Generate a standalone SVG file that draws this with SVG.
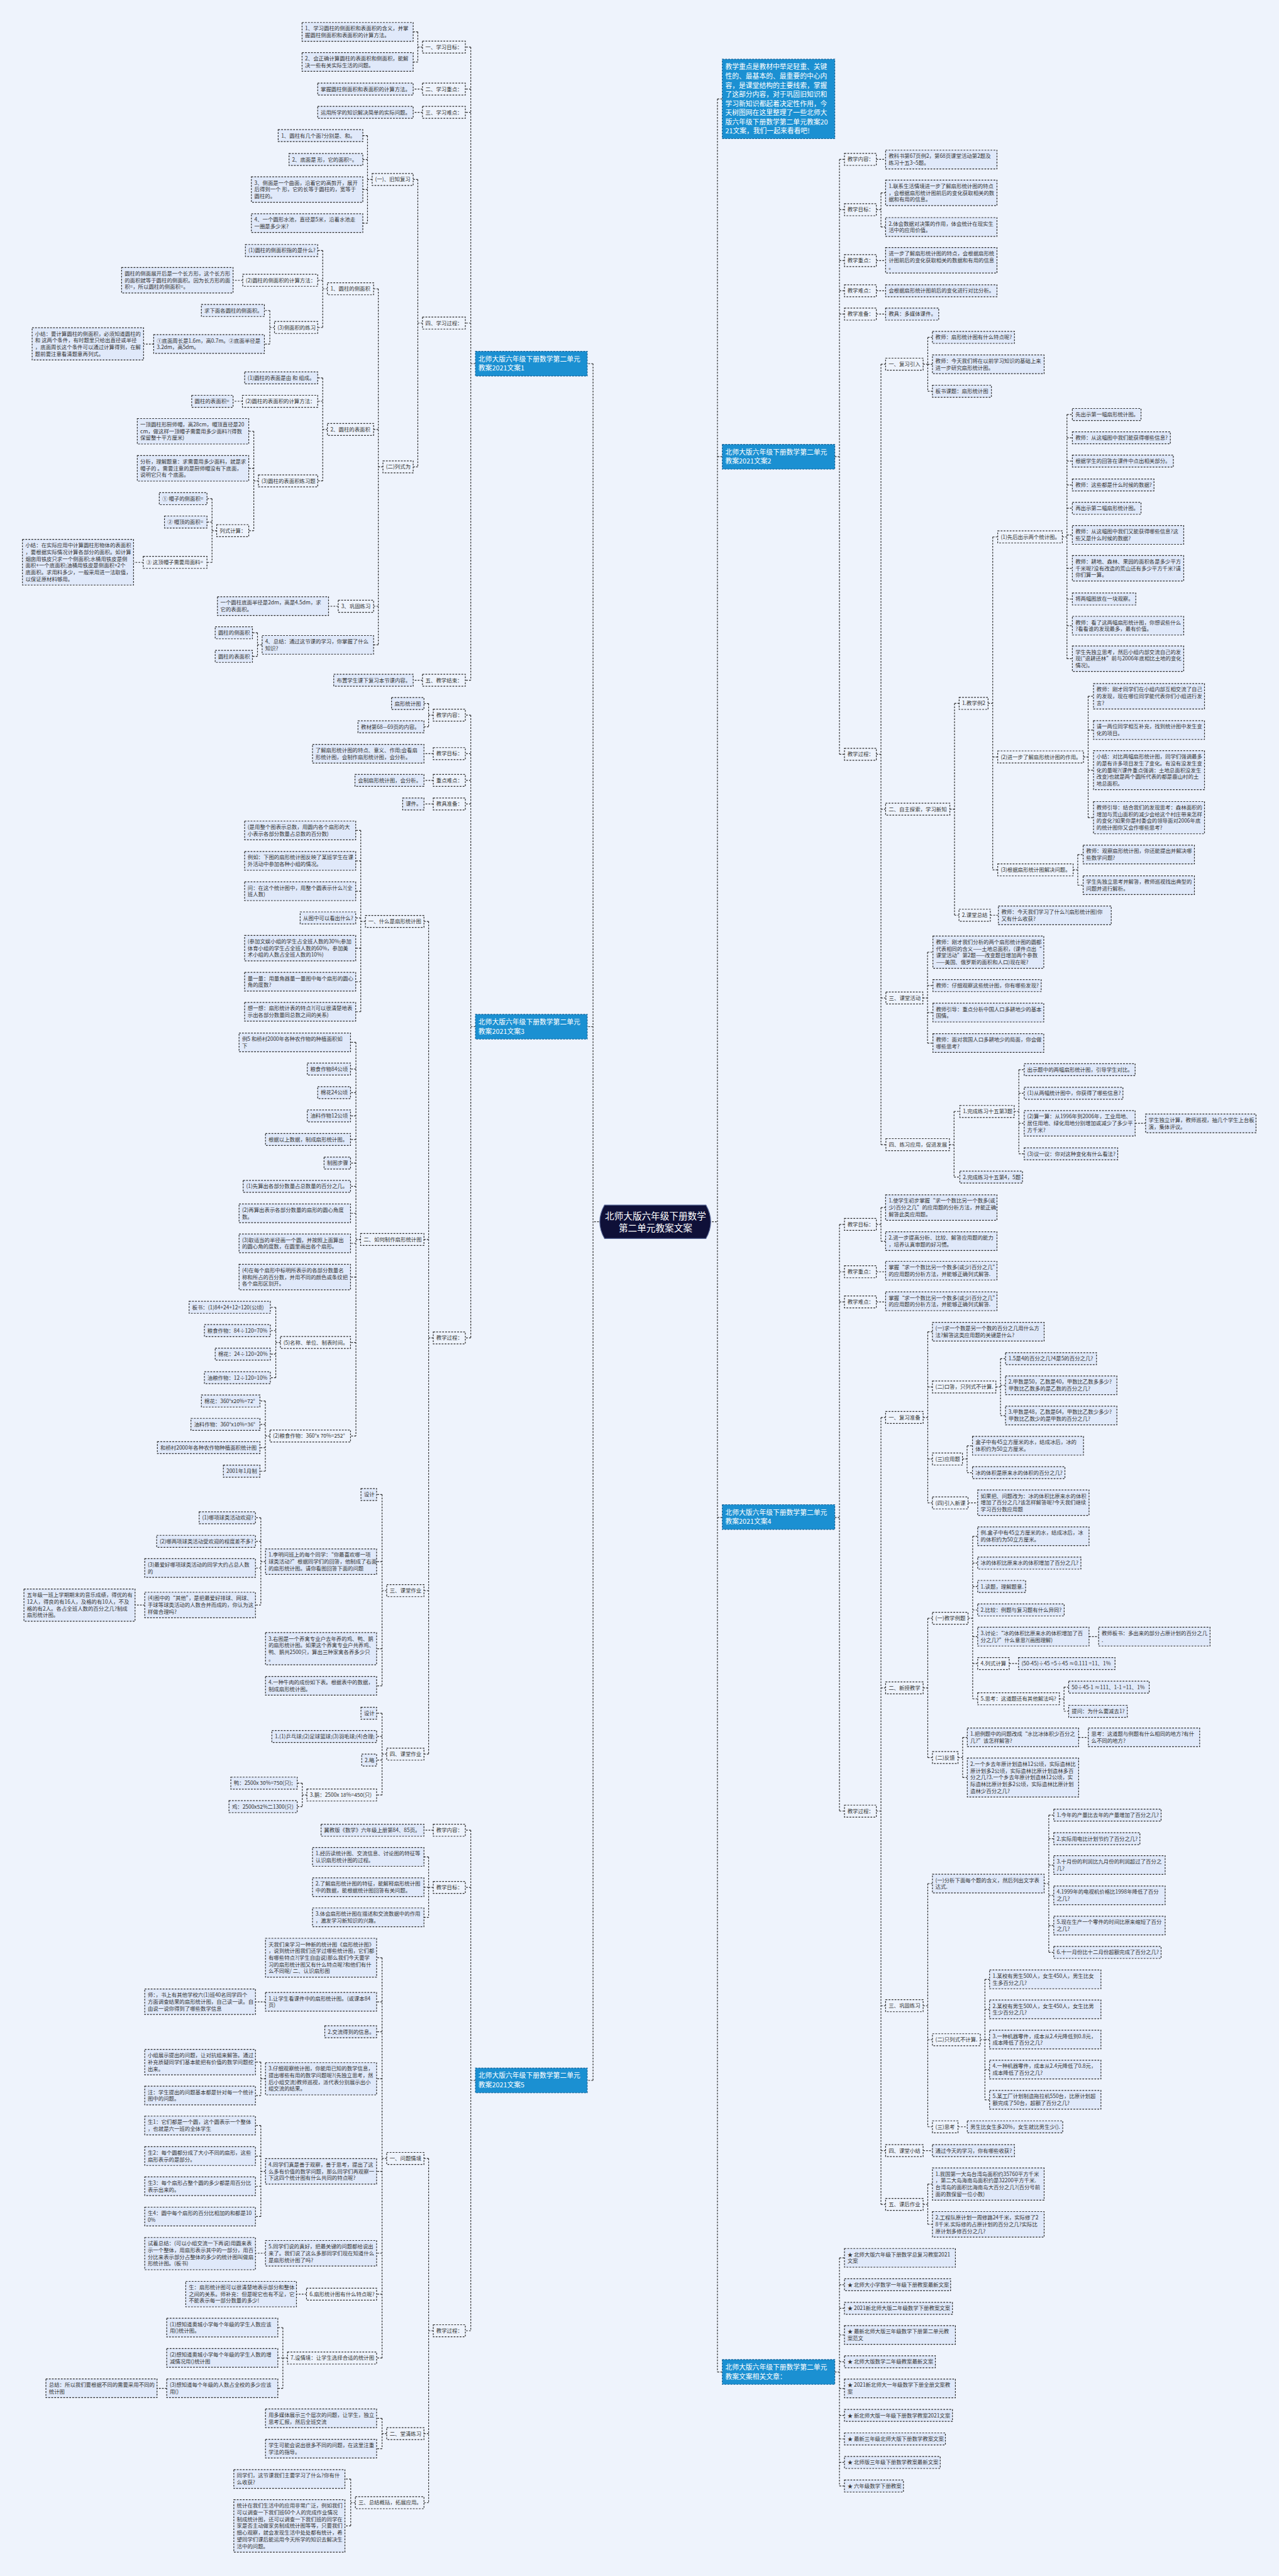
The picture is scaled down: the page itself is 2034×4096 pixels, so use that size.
<svg xmlns="http://www.w3.org/2000/svg" width="2034" height="4096" viewBox="0 0 2034 4096">
<style>
.c{fill:none;stroke:#2b2b2b;stroke-width:1.5;stroke-dasharray:3.5 2.5}
.n{fill:#eef3fc;stroke:#2b2b2b;stroke-width:1.5;stroke-dasharray:3.5 2.5}
.f{fill:#e0e9fa;stroke:#2b2b2b;stroke-width:1.5;stroke-dasharray:3.5 2.5}
.bl{fill:#1b90d2;stroke:#155f93;stroke-width:1.5;stroke-dasharray:3.5 2.5}
.t{font-family:"Noto Sans CJK SC","Noto Sans",sans-serif;font-size:10.6px;fill:#333}
.tb{font-family:"Noto Sans CJK SC","Noto Sans",sans-serif;font-size:13.6px;fill:#fff}
.tc{font-family:"Noto Sans CJK SC","Noto Sans",sans-serif;font-size:18.4px;fill:#fff;text-anchor:middle}
</style>
<rect x="0" y="0" width="2034" height="4096" fill="#eef3fc"/>
<g transform="scale(0.79453)">
<g id="connectors">
<path class="c" d="M1198.7,2445H1187 M1187,727.8V4163.5 M1187,727.8H1175.4 M1187,2054.7H1175.4 M1187,4163.5H1175.4"/>
<path class="c" d="M1425,2445H1436 M1436,198V4747 M1436,198H1445.7 M1436,914H1445.7 M1436,3036.9H1445.7 M1436,4747H1445.7"/>
<path class="c" d="M951.6,727.8H942.3 M942.3,94.3V1361.3 M942.3,94.3H931.4 M942.3,178.2H931.4 M942.3,224.8H931.4 M942.3,646.6H931.4 M942.3,1361.3H931.4"/>
<path class="c" d="M845.6,94.3H836.3 M836.3,63.8V124.1 M836.3,63.8H827 M836.3,124.1H827"/>
<path class="c" d="M845.6,178.2H827 M845.6,224.8H827 M845.6,1361.3H827"/>
<path class="c" d="M845.6,646.6H836.3 M836.3,359.2V934.3 M836.3,359.2H827 M836.3,934.3H827"/>
<path class="c" d="M744.9,359.2H735.6 M735.6,271.4V446.6 M735.6,271.4H726.2 M735.6,319.2H726.2 M735.6,379.3H726.2 M735.6,446.6H726.2"/>
<path class="c" d="M766.5,934.3H757.2 M757.2,578V1290.6 M757.2,578H747.8 M757.2,859.4H747.8 M757.2,1213.3H747.8 M757.2,1290.6H747.8"/>
<path class="c" d="M655.3,578H646 M646,501.3V655.4 M646,501.3H635.9 M646,561H635.9 M646,655.4H635.9"/>
<path class="c" d="M485.9,561H466.5 M307.6,688.5H287.4 M485.2,803H466.5 M286.7,1125.5H267.3 M677,1213.3H657.6"/>
<path class="c" d="M549.4,655.4H540.1 M540.1,621.4V688.5 M540.1,621.4H529.2 M540.1,688.5H529.2"/>
<path class="c" d="M655.3,859.4H646 M646,756.3V962.3 M646,756.3H635.9 M646,803H635.9 M646,962.3H635.9"/>
<path class="c" d="M517.3,962.3H508 M508,863.1V1062 M508,863.1H497.9 M508,937.3H497.9 M508,1062H497.9"/>
<path class="c" d="M433.7,1062H424.4 M424.4,998V1125.5 M424.4,998H414.3 M424.4,1044.7H414.3 M424.4,1125.5H414.3"/>
<path class="c" d="M524.7,1290.6H515.4 M515.4,1266.4V1313.6 M515.4,1266.4H505.3 M515.4,1313.6H505.3"/>
<path class="c" d="M951.6,2054.7H942.3 M942.3,1431.2V2677.5 M942.3,1431.2H931.4 M942.3,1508.2H931.4 M942.3,1561.8H931.4 M942.3,1609H931.4 M942.3,2677.5H931.4"/>
<path class="c" d="M867.2,1431.2H857.9 M857.9,1407.9V1454.5 M857.9,1407.9H848.6 M857.9,1454.5H848.6"/>
<path class="c" d="M867.2,1508.2H848.6 M867.2,1561.8H848.6 M867.2,1609H848.6"/>
<path class="c" d="M867.2,2677.5H857.9 M857.9,1844V3510.5 M857.9,1844H848.6 M857.9,2480.5H848.6 M857.9,3183.3H848.6 M857.9,3510.5H848.6"/>
<path class="c" d="M731.4,1844H722.1 M722.1,1661.9V2024.8 M722.1,1661.9H712 M722.1,1722.9H712 M722.1,1783.6H712 M722.1,1837H712 M722.1,1897.6H712 M722.1,1964.7H712 M722.1,2024.8H712"/>
<path class="c" d="M721.7,2480.5H712.4 M712.4,2086.1V2873.8 M712.4,2086.1H701.6 M712.4,2139.5H701.6 M712.4,2186.6H701.6 M712.4,2233.3H701.6 M712.4,2280.4H701.6 M712.4,2327.6H701.6 M712.4,2374.2H701.6 M712.4,2428.2H701.6 M712.4,2488.3H701.6 M712.4,2555.7H701.6 M712.4,2686.7H701.6 M712.4,2873.8H701.6"/>
<path class="c" d="M561.3,2686.7H552 M552,2616.3V2757.2 M552,2616.3H541.1 M552,2662.9H541.1 M552,2710H541.1 M552,2757.2H541.1"/>
<path class="c" d="M540.4,2873.8H531.1 M531.1,2803.8V2944.2 M531.1,2803.8H520.3 M531.1,2850.5H520.3 M531.1,2897.1H520.3 M531.1,2944.2H520.3"/>
<path class="c" d="M774,3183.3H764.7 M764.7,2990.9V3373.8 M764.7,2990.9H753.8 M764.7,3125.3H753.8 M764.7,3299.6H753.8 M764.7,3373.8H753.8"/>
<path class="c" d="M531.4,3125.3H522.1 M522.1,3037.5V3212 M522.1,3037.5H511.3 M522.1,3084.6H511.3 M522.1,3138H511.3 M522.1,3212H511.3 M289.7,3212H270.3"/>
<path class="c" d="M774,3510.5H764.7 M764.7,3428.6V3592.3 M764.7,3428.6H753.8 M764.7,3475.2H753.8 M764.7,3522.4H753.8 M764.7,3592.3H753.8"/>
<path class="c" d="M614.3,3592.3H605 M605,3568.5V3615.6 M605,3568.5H594.9 M605,3615.6H594.9"/>
<path class="c" d="M951.6,4163.5H942.3 M942.3,3662.8V4664.4 M942.3,3662.8H931.4 M942.3,3777.2H931.4 M942.3,4664.4H931.4 M867.2,3662.8H848.6"/>
<path class="c" d="M867.2,3777.2H857.9 M857.9,3716.2V3837.1 M857.9,3716.2H848.6 M857.9,3776.9H848.6 M857.9,3837.1H848.6"/>
<path class="c" d="M867.2,4664.4H857.9 M857.9,4319.6V5008.6 M857.9,4319.6H848.6 M857.9,4870.4H848.6 M857.9,5008.6H848.6"/>
<path class="c" d="M774,4319.6H764.7 M764.7,3918V4719.1 M764.7,3918H753.8 M764.7,4006.2H753.8 M764.7,4066.1H753.8 M764.7,4160.2H753.8 M764.7,4345.5H753.8 M764.7,4509.3H753.8 M764.7,4591.2H753.8 M764.7,4719.1H753.8"/>
<path class="c" d="M531.4,4006.2H511.3 M531.4,4509.3H511.3 M613.5,4591.2H593.4 M333.7,4779.6H314.3"/>
<path class="c" d="M531.4,4160.2H522.1 M522.1,4126.8V4193.8 M522.1,4126.8H511.3 M522.1,4193.8H511.3"/>
<path class="c" d="M531.4,4345.5H522.1 M522.1,4253.7V4435.9 M522.1,4253.7H511.3 M522.1,4315H511.3 M522.1,4375.2H511.3 M522.1,4435.9H511.3"/>
<path class="c" d="M575.5,4719.1H566.2 M566.2,4658.1V4779.6 M566.2,4658.1H556.1 M566.2,4718.8H556.1 M566.2,4779.6H556.1"/>
<path class="c" d="M774,4870.4H764.7 M764.7,4839.7V4900.5 M764.7,4839.7H753.8 M764.7,4900.5H753.8"/>
<path class="c" d="M711.3,5008.6H702 M702,4961.2V5055.1 M702,4961.2H690.4 M702,5055.1H690.4"/>
<path class="c" d="M1670.9,914H1680.2 M1680.2,319V1509.5 M1680.2,319H1690.2 M1680.2,419.7H1690.2 M1680.2,521.5H1690.2 M1680.2,582H1690.2 M1680.2,628.6H1690.2 M1680.2,1509.5H1690.2"/>
<path class="c" d="M1754,319H1772.6 M1754,521.5H1772.6 M1754,582H1772.6 M1754,628.6H1772.6"/>
<path class="c" d="M1754,419.7H1763.3 M1763.3,386V454.3 M1763.3,386H1772.6 M1763.3,454.3H1772.6"/>
<path class="c" d="M1754,1509.5H1763.3 M1763.3,728.8V2290.7 M1763.3,728.8H1772.6 M1763.3,1619.3H1772.6 M1763.3,1997.2H1772.6 M1763.3,2290.7H1772.6"/>
<path class="c" d="M1847.7,728.8H1857 M1857,675.2V782.9 M1857,675.2H1866.3 M1857,729.1H1866.3 M1857,782.9H1866.3"/>
<path class="c" d="M1901.2,1619.3H1910.5 M1910.5,1407.7V1831.6 M1910.5,1407.7H1919.5 M1910.5,1831.6H1919.5"/>
<path class="c" d="M1977.7,1407.7H1987 M1987,1074.5V1740.9 M1987,1074.5H1997 M1987,1514.8H1997 M1987,1740.9H1997"/>
<path class="c" d="M2126.3,1074.5H2135.6 M2135.6,829.5V1318.3 M2135.6,829.5H2146.4 M2135.6,876.1H2146.4 M2135.6,922.7H2146.4 M2135.6,970.6H2146.4 M2135.6,1017.2H2146.4 M2135.6,1070.6H2146.4 M2135.6,1137.3H2146.4 M2135.6,1198.8H2146.4 M2135.6,1252.2H2146.4 M2135.6,1318.3H2146.4"/>
<path class="c" d="M2168.7,1514.8H2178 M2178,1393.4V1636.4 M2178,1393.4H2188.7 M2178,1461.1H2188.7 M2178,1541.3H2188.7 M2178,1636.4H2188.7"/>
<path class="c" d="M2147.9,1740.9H2157.2 M2157.2,1710.2V1771.5 M2157.2,1710.2H2168 M2157.2,1771.5H2168 M1982.2,1831.6H1998.3"/>
<path class="c" d="M1847.2,1997.2H1856.5 M1856.5,1905.5V2087.5 M1856.5,1905.5H1867.3 M1856.5,1972.5H1867.3 M1856.5,2026.5H1867.3 M1856.5,2087.5H1867.3"/>
<path class="c" d="M1900.3,2290.7H1909.6 M1909.6,2224.3V2355.6 M1909.6,2224.3H1921.2 M1909.6,2355.6H1921.2"/>
<path class="c" d="M2030,2224.3H2039.3 M2039.3,2140.7V2309 M2039.3,2140.7H2050 M2039.3,2187.9H2050 M2039.3,2248H2050 M2039.3,2309H2050 M2272,2248H2293"/>
<path class="c" d="M1670.9,3036.9H1680.2 M1680.2,2450.4V3624.5 M1680.2,2450.4H1690.2 M1680.2,2545.2H1690.2 M1680.2,2605.4H1690.2 M1680.2,3624.5H1690.2"/>
<path class="c" d="M1754,2450.4H1763.3 M1763.3,2416.7V2484 M1763.3,2416.7H1772.6 M1763.3,2484H1772.6 M1754,2545.2H1772.6 M1754,2605.4H1772.6"/>
<path class="c" d="M1754,3624.5H1763.3 M1763.3,2836.8V4411.6 M1763.3,2836.8H1772.6 M1763.3,3377.9H1772.6 M1763.3,4014H1772.6 M1763.3,4304H1772.6 M1763.3,4411.6H1772.6"/>
<path class="c" d="M1847.7,2836.8H1857 M1857,2665.2V3007.7 M1857,2665.2H1866.3 M1857,2775.7H1866.3 M1857,2919.9H1866.3 M1857,3007.7H1866.3"/>
<path class="c" d="M1993.3,2775.7H2002.6 M2002.6,2719V2832.9 M2002.6,2719H2012.6 M2002.6,2772.4H2012.6 M2002.6,2832.9H2012.6"/>
<path class="c" d="M1926.4,2919.9H1935.7 M1935.7,2893.4V2947.2 M1935.7,2893.4H1946.5 M1935.7,2947.2H1946.5 M1937.6,3007.7H1956.9"/>
<path class="c" d="M1847.7,3377.9H1857 M1857,3238.6V3517.4 M1857,3238.6H1866.3 M1857,3517.4H1866.3"/>
<path class="c" d="M1937.6,3238.6H1946.9 M1946.9,3074.5V3399.8 M1946.9,3074.5H1956.9 M1946.9,3128.2H1956.9 M1946.9,3174.9H1956.9 M1946.9,3222H1956.9 M1946.9,3275.4H1956.9 M1946.9,3329.1H1956.9 M1946.9,3399.8H1956.9"/>
<path class="c" d="M2179.8,3275.4H2199 M2020,3329.1H2038.6 M2120.4,3399.8H2129.7 M2129.7,3376.3V3424.7 M2129.7,3376.3H2139 M2129.7,3424.7H2139"/>
<path class="c" d="M1917.5,3517.4H1926.8 M1926.8,3477V3557.2 M1926.8,3477H1936.1 M1926.8,3557.2H1936.1 M2159,3477H2178.3"/>
<path class="c" d="M1847.7,4014H1857 M1857,3769.5V4256.3 M1857,3769.5H1866.3 M1857,4082H1866.3 M1857,4256.3H1866.3"/>
<path class="c" d="M2089.9,3769.5H2099.2 M2099.2,3632.5V3907.3 M2099.2,3632.5H2109.2 M2099.2,3679.7H2109.2 M2099.2,3732.5H2109.2 M2099.2,3793.1H2109.2 M2099.2,3853.6H2109.2 M2099.2,3907.3H2109.2"/>
<path class="c" d="M1962.1,4082H1971.4 M1971.4,3961.3V4202.3 M1971.4,3961.3H1980.7 M1971.4,4021.3H1980.7 M1971.4,4081.8H1980.7 M1971.4,4141.8H1980.7 M1971.4,4202.3H1980.7"/>
<path class="c" d="M1917.5,4256.3H1936.1 M1847.7,4304H1866.3 M1847.7,4411.6H1857 M1857,4370.9V4451.4 M1857,4370.9H1866.3 M1857,4451.4H1866.3"/>
<path class="c" d="M1670.9,4747H1680.2 M1680.2,4518.6V4975.2 M1680.2,4518.6H1690.2 M1680.2,4572.3H1690.2 M1680.2,4619.5H1690.2 M1680.2,4672.9H1690.2 M1680.2,4726.6H1690.2 M1680.2,4780H1690.2 M1680.2,4833.8H1690.2 M1680.2,4880.9H1690.2 M1680.2,4928H1690.2 M1680.2,4975.2H1690.2"/>
</g>

<g id="n-center"><path d="M1210,2411.6H1413Q1432,2445 1413,2478.6H1210Q1191,2445 1210,2411.6Z" fill="#0f1038" stroke="#5a6a9a" stroke-width="1.5"/><text class="tc" x="1312" y="2441">北师大版六年级下册数学</text><text class="tc" x="1312" y="2464.7">第二单元教案文案</text></g>

<g id="n-a0"><rect class="bl" x="951.6" y="703" width="223.8" height="49.6"/><text class="tb" y="723.2"><tspan x="957.6">北师大版六年级下册数学第二单元</tspan><tspan x="957.6" dy="18.6">教案2021文案1</tspan></text></g>
<g id="n-a1"><rect class="n" x="845.6" y="82.3" width="85.8" height="24"/><text class="t" x="851.6" y="98.1">一、学习目标：</text></g>
<g id="n-a1a"><rect class="f" x="604.6" y="45" width="222.4" height="37.5"/><text class="t" y="60.8"><tspan x="610.6">1、学习圆柱的侧面积和表面积的含义，并掌</tspan><tspan x="610.6" dy="13.5">握圆柱侧面积和表面积的计算方法。</tspan></text></g>
<g id="n-a1b"><rect class="f" x="604.6" y="105.3" width="222.4" height="37.5"/><text class="t" y="121.1"><tspan x="610.6">2、会正确计算圆柱的表面积和侧面积，能解</tspan><tspan x="610.6" dy="13.5">决一些有关实际生活的问题。</tspan></text></g>
<g id="n-a2"><rect class="n" x="845.6" y="166.2" width="85.8" height="24"/><text class="t" x="851.6" y="182">二、学习重点：</text></g>
<g id="n-a2a"><rect class="f" x="635.9" y="166.2" width="191.1" height="24"/><text class="t" x="641.9" y="182">掌握圆柱侧面积和表面积的计算方法。</text></g>
<g id="n-a3"><rect class="n" x="845.6" y="212.8" width="85.8" height="24"/><text class="t" x="851.6" y="228.6">三、学习难点：</text></g>
<g id="n-a3a"><rect class="f" x="635.9" y="212.8" width="191.1" height="24"/><text class="t" x="641.9" y="228.6">运用所学的知识解决简单的实际问题。</text></g>
<g id="n-a4"><rect class="n" x="845.6" y="634.6" width="85.8" height="24"/><text class="t" x="851.6" y="650.4">四、学习过程：</text></g>
<g id="n-a41"><rect class="n" x="744.9" y="347.2" width="82.1" height="24"/><text class="t" x="750.9" y="363">(一)、旧知复习</text></g>
<g id="n-a411"><rect class="f" x="556.8" y="259.4" width="169.4" height="24"/><text class="t" x="562.8" y="275.2">1、圆柱有几个面?分别是、和。</text></g>
<g id="n-a412"><rect class="f" x="578.5" y="307.2" width="147.7" height="24"/><text class="t" x="584.5" y="323">2、底面是 形，它的面积=。</text></g>
<g id="n-a413"><rect class="f" x="503.1" y="353.8" width="223.1" height="51"/><text class="t" y="369.6"><tspan x="509.1">3、侧面是一个曲面，沿着它的高剪开，展开</tspan><tspan x="509.1" dy="13.5">后得到一个 形，它的长等于圆柱的，宽等于</tspan><tspan x="509.1" dy="13.5">圆柱的。</tspan></text></g>
<g id="n-a414"><rect class="f" x="503.1" y="427.8" width="223.1" height="37.5"/><text class="t" y="443.6"><tspan x="509.1">4、一个圆形水池，直径是5米，沿着水池走</tspan><tspan x="509.1" dy="13.5">一圈是多少米?</tspan></text></g>
<g id="n-a42"><rect class="n" x="766.5" y="922.3" width="60.5" height="24"/><text class="t" x="772.5" y="938.1">(二)列式为</text></g>
<g id="n-a421"><rect class="n" x="655.3" y="566" width="92.5" height="24"/><text class="t" x="661.3" y="581.8">1、圆柱的侧面积</text></g>
<g id="n-a4211"><rect class="f" x="491.2" y="489.3" width="144.7" height="24"/><text class="t" x="497.2" y="505.1">(1)圆柱的侧面积指的是什么?</text></g>
<g id="n-a4212"><rect class="n" x="485.9" y="549" width="150" height="24"/><text class="t" x="491.9" y="564.8">(2)圆柱的侧面积的计算方法：</text></g>
<g id="n-a42121"><rect class="f" x="243.4" y="535.3" width="223.1" height="51"/><text class="t" y="551.1"><tspan x="249.4">圆柱的侧面展开后是一个长方形，这个长方形</tspan><tspan x="249.4" dy="13.5">的面积就等于圆柱的侧面积。因为长方形的面</tspan><tspan x="249.4" dy="13.5">积=，所以圆柱的侧面积=。</tspan></text></g>
<g id="n-a4213"><rect class="n" x="549.4" y="643.4" width="86.5" height="24"/><text class="t" x="555.4" y="659.2">(3)侧面积的练习</text></g>
<g id="n-a42131"><rect class="f" x="403.1" y="609.4" width="126.1" height="24"/><text class="t" x="409.1" y="625.2">求下面各圆柱的侧面积。</text></g>
<g id="n-a42132"><rect class="f" x="307.6" y="669.7" width="221.6" height="37.5"/><text class="t" y="685.5"><tspan x="313.6">①底面周长是1.6m，高0.7m。②底面半径是</tspan><tspan x="313.6" dy="13.5">3.2dm，高5dm。</tspan></text></g>
<g id="n-a421321"><rect class="f" x="64.3" y="656" width="223.1" height="64.5"/><text class="t" y="671.8"><tspan x="70.3">小结：要计算圆柱的侧面积，必须知道圆柱的</tspan><tspan x="70.3" dy="13.5">和 这两个条件，有时题里只给出直径或半径</tspan><tspan x="70.3" dy="13.5">，底面周长这个条件可以通过计算得到，在解</tspan><tspan x="70.3" dy="13.5">题前要注意看清题意再列式。</tspan></text></g>
<g id="n-a422"><rect class="n" x="655.3" y="847.4" width="92.5" height="24"/><text class="t" x="661.3" y="863.2">2、圆柱的表面积</text></g>
<g id="n-a4221"><rect class="f" x="489.7" y="744.3" width="146.2" height="24"/><text class="t" x="495.7" y="760.1">(1)圆柱的表面是由 和 组成。</text></g>
<g id="n-a4222"><rect class="n" x="485.2" y="791" width="150.7" height="24"/><text class="t" x="491.2" y="806.8">(2)圆柱的表面积的计算方法：</text></g>
<g id="n-a42221"><rect class="f" x="383.7" y="791" width="82.8" height="24"/><text class="t" x="389.7" y="806.8">圆柱的表面积=</text></g>
<g id="n-a4223"><rect class="n" x="517.3" y="950.3" width="118.6" height="24"/><text class="t" x="523.3" y="966.1">(3)圆柱的表面积练习题</text></g>
<g id="n-a42231"><rect class="f" x="274.8" y="837.6" width="223.1" height="51"/><text class="t" y="853.4"><tspan x="280.8">一顶圆柱形厨师帽，高28cm，帽顶直径是20</tspan><tspan x="280.8" dy="13.5">cm，做这样一顶帽子需要用多少面料?(得数</tspan><tspan x="280.8" dy="13.5">保留整十平方厘米)</tspan></text></g>
<g id="n-a42232"><rect class="f" x="274.8" y="911.8" width="223.1" height="51"/><text class="t" y="927.6"><tspan x="280.8">分析，理解题意：求需要用多少面料，就是求</tspan><tspan x="280.8" dy="13.5">帽子的 。需要注意的是厨师帽没有下底面，</tspan><tspan x="280.8" dy="13.5">说明它只有 个底面。</tspan></text></g>
<g id="n-a42233"><rect class="n" x="433.7" y="1050" width="64.2" height="24"/><text class="t" x="439.7" y="1065.8">列式计算：</text></g>
<g id="n-a422331"><rect class="f" x="318.8" y="986" width="95.5" height="24"/><text class="t" x="324.8" y="1001.8">① 帽子的侧面积=</text></g>
<g id="n-a422332"><rect class="f" x="329.2" y="1032.7" width="85.1" height="24"/><text class="t" x="335.2" y="1048.5">② 帽顶的面积=</text></g>
<g id="n-a422333"><rect class="n" x="286.7" y="1113.5" width="127.6" height="24"/><text class="t" x="292.7" y="1129.3">③ 这顶帽子需要用面料=</text></g>
<g id="n-a4223331"><rect class="f" x="44.9" y="1079.3" width="222.4" height="91.5"/><text class="t" y="1095.1"><tspan x="50.9">小结：在实际应用中计算圆柱形物体的表面积</tspan><tspan x="50.9" dy="13.5">，要根据实际情况计算各部分的面积。如计算</tspan><tspan x="50.9" dy="13.5">烟囱用铁皮只求一个侧面积;水桶用铁皮是侧</tspan><tspan x="50.9" dy="13.5">面积+一个底面积;油桶用铁皮是侧面积+2个</tspan><tspan x="50.9" dy="13.5">底面积。求用料多少，一般采用进一法取值，</tspan><tspan x="50.9" dy="13.5">以保证原材料够用。</tspan></text></g>
<g id="n-a423"><rect class="n" x="677" y="1201.3" width="70.8" height="24"/><text class="t" x="683" y="1217.1">3、巩固练习</text></g>
<g id="n-a4231"><rect class="f" x="435.2" y="1194.2" width="222.4" height="37.5"/><text class="t" y="1210"><tspan x="441.2">一个圆柱底面半径是2dm，高是4.5dm，求</tspan><tspan x="441.2" dy="13.5">它的表面积。</tspan></text></g>
<g id="n-a424"><rect class="f" x="524.7" y="1271.8" width="223.1" height="37.5"/><text class="t" y="1287.6"><tspan x="530.7">4、总结：通过这节课的学习，你掌握了什么</tspan><tspan x="530.7" dy="13.5">知识?</tspan></text></g>
<g id="n-a4241"><rect class="f" x="430.7" y="1254.4" width="74.6" height="24"/><text class="t" x="436.7" y="1270.2">圆柱的侧面积</text></g>
<g id="n-a4242"><rect class="f" x="430.7" y="1301.6" width="74.6" height="24"/><text class="t" x="436.7" y="1317.4">圆柱的表面积</text></g>
<g id="n-a5"><rect class="n" x="845.6" y="1349.3" width="85.8" height="24"/><text class="t" x="851.6" y="1365.1">五、教学结束：</text></g>
<g id="n-a5a"><rect class="f" x="668" y="1349.3" width="159" height="24"/><text class="t" x="674" y="1365.1">布置学生课下复习本节课内容。</text></g>

<g id="n-b0"><rect class="bl" x="951.6" y="2029.9" width="223.8" height="49.6"/><text class="tb" y="2050.1"><tspan x="957.6">北师大版六年级下册数学第二单元</tspan><tspan x="957.6" dy="18.6">教案2021文案3</tspan></text></g>
<g id="n-b1"><rect class="n" x="867.2" y="1419.2" width="64.2" height="24"/><text class="t" x="873.2" y="1435">教学内容：</text></g>
<g id="n-b1a"><rect class="f" x="783.7" y="1395.9" width="64.9" height="24"/><text class="t" x="789.7" y="1411.7">扇形统计图</text></g>
<g id="n-b1b"><rect class="f" x="716.5" y="1442.5" width="132.1" height="24"/><text class="t" x="722.5" y="1458.3">教材第68—69页的内容。</text></g>
<g id="n-b2"><rect class="n" x="867.2" y="1496.2" width="64.2" height="24"/><text class="t" x="873.2" y="1512">教学目标：</text></g>
<g id="n-b2a"><rect class="f" x="625.5" y="1489.7" width="223.1" height="37.5"/><text class="t" y="1505.5"><tspan x="631.5">了解扇形统计图的特点、意义、作用;会看扇</tspan><tspan x="631.5" dy="13.5">形统计图，会制作扇形统计图，会分析。</tspan></text></g>
<g id="n-b3"><rect class="n" x="867.2" y="1549.8" width="64.2" height="24"/><text class="t" x="873.2" y="1565.6">重点难点：</text></g>
<g id="n-b3a"><rect class="f" x="710.5" y="1549.8" width="138.1" height="24"/><text class="t" x="716.5" y="1565.6">会制扇形统计图，会分析。</text></g>
<g id="n-b4"><rect class="n" x="867.2" y="1597" width="64.2" height="24"/><text class="t" x="873.2" y="1612.8">教具准备：</text></g>
<g id="n-b4a"><rect class="f" x="806" y="1597" width="42.6" height="24"/><text class="t" x="812" y="1612.8">课件。</text></g>
<g id="n-b5"><rect class="n" x="867.2" y="2665.5" width="64.2" height="24"/><text class="t" x="873.2" y="2681.3">教学过程：</text></g>
<g id="n-b51"><rect class="n" x="731.4" y="1832" width="117.2" height="24"/><text class="t" x="737.4" y="1847.8">一、什么是扇形统计图</text></g>
<g id="n-b511"><rect class="f" x="489.6" y="1643.1" width="222.4" height="37.5"/><text class="t" y="1658.9"><tspan x="495.6">(是用整个图表示总数，用圆内各个扇形的大</tspan><tspan x="495.6" dy="13.5">小表示各部分数量占总数的百分数)</tspan></text></g>
<g id="n-b512"><rect class="f" x="489.6" y="1704.1" width="222.4" height="37.5"/><text class="t" y="1719.9"><tspan x="495.6">例如：下图的扇形统计图反映了某班学生在课</tspan><tspan x="495.6" dy="13.5">外活动中参加各种小组的情况。</tspan></text></g>
<g id="n-b513"><rect class="f" x="489.6" y="1764.8" width="222.4" height="37.5"/><text class="t" y="1780.6"><tspan x="495.6">问：在这个统计图中，用整个圆表示什么?(全</tspan><tspan x="495.6" dy="13.5">班人数)</tspan></text></g>
<g id="n-b514"><rect class="f" x="600.8" y="1825" width="111.2" height="24"/><text class="t" x="606.8" y="1840.8">从图中可以看出什么?</text></g>
<g id="n-b515"><rect class="f" x="489.6" y="1872.1" width="222.4" height="51"/><text class="t" y="1887.9"><tspan x="495.6">(参加文娱小组的学生占全班人数的30%;参加</tspan><tspan x="495.6" dy="13.5">体育小组的学生占全班人数的60%，参加美</tspan><tspan x="495.6" dy="13.5">术小组的人数占全班人数的10%)</tspan></text></g>
<g id="n-b516"><rect class="f" x="489.6" y="1945.9" width="222.4" height="37.5"/><text class="t" y="1961.7"><tspan x="495.6">量一量：用量角器量一量图中每个扇形的圆心</tspan><tspan x="495.6" dy="13.5">角的度数?</tspan></text></g>
<g id="n-b517"><rect class="f" x="489.6" y="2006" width="222.4" height="37.5"/><text class="t" y="2021.8"><tspan x="495.6">想一想：扇形统计表的特点?(可以很清楚地表</tspan><tspan x="495.6" dy="13.5">示出各部分数量同总数之间的关系)</tspan></text></g>
<g id="n-b52"><rect class="n" x="721.7" y="2468.5" width="126.9" height="24"/><text class="t" x="727.7" y="2484.3">二、如何制作扇形统计图</text></g>
<g id="n-b521"><rect class="f" x="478.5" y="2067.3" width="223.1" height="37.5"/><text class="t" y="2083.1"><tspan x="484.5">例5 和桥村2000年各种农作物的种植面积如</tspan><tspan x="484.5" dy="13.5">下</tspan></text></g>
<g id="n-b522"><rect class="f" x="615" y="2127.5" width="86.6" height="24"/><text class="t" x="621" y="2143.3">粮食作物84公顷</text></g>
<g id="n-b523"><rect class="f" x="635.9" y="2174.6" width="65.7" height="24"/><text class="t" x="641.9" y="2190.4">棉花24公顷</text></g>
<g id="n-b524"><rect class="f" x="615" y="2221.3" width="86.6" height="24"/><text class="t" x="621" y="2237.1">油料作物12公顷</text></g>
<g id="n-b525"><rect class="f" x="531.4" y="2268.4" width="170.2" height="24"/><text class="t" x="537.4" y="2284.2">根据以上数据，制成扇形统计图。</text></g>
<g id="n-b526"><rect class="f" x="648.6" y="2315.6" width="53" height="24"/><text class="t" x="654.6" y="2331.4">制图步骤</text></g>
<g id="n-b527"><rect class="f" x="486.7" y="2362.2" width="214.9" height="24"/><text class="t" x="492.7" y="2378">(1)先算出各部分数量占总数量的百分之几。</text></g>
<g id="n-b528"><rect class="f" x="478.5" y="2409.4" width="223.1" height="37.5"/><text class="t" y="2425.2"><tspan x="484.5">(2)再算出表示各部分数量的扇形的圆心角度</tspan><tspan x="484.5" dy="13.5">数。</tspan></text></g>
<g id="n-b529"><rect class="f" x="478.5" y="2469.5" width="223.1" height="37.5"/><text class="t" y="2485.3"><tspan x="484.5">(3)取适当的半径画一个圆，并按照上面算出</tspan><tspan x="484.5" dy="13.5">的圆心角的度数，在圆里画出各个扇形。</tspan></text></g>
<g id="n-b5210"><rect class="f" x="478.5" y="2530.2" width="223.1" height="51"/><text class="t" y="2546"><tspan x="484.5">(4)在每个扇形中标明所表示的各部分数量名</tspan><tspan x="484.5" dy="13.5">称和所占的百分数，并用不同的颜色或条纹把</tspan><tspan x="484.5" dy="13.5">各个扇形区别开。</tspan></text></g>
<g id="n-b5211"><rect class="n" x="561.3" y="2674.7" width="140.3" height="24"/><text class="t" x="567.3" y="2690.5">(5)名称、单位、制表时间。</text></g>
<g id="n-c1"><rect class="f" x="378.5" y="2604.3" width="162.6" height="24"/><text class="t" x="384.5" y="2620.1">板书：(1)84+24+12=120(公顷)</text></g>
<g id="n-c2"><rect class="f" x="409.1" y="2650.9" width="132" height="24"/><text class="t" x="415.1" y="2666.7">粮食作物：84÷120=70%</text></g>
<g id="n-c3"><rect class="f" x="430.7" y="2698" width="110.4" height="24"/><text class="t" x="436.7" y="2713.8">棉花：24÷120=20%</text></g>
<g id="n-c4"><rect class="f" x="409.1" y="2745.2" width="132" height="24"/><text class="t" x="415.1" y="2761">油粮作物：12÷120=10%</text></g>
<g id="n-b5212"><rect class="n" x="540.4" y="2861.8" width="161.2" height="24"/><text class="t" x="546.4" y="2877.6">(2)粮食作物：360°x 70%=252°</text></g>
<g id="n-d1"><rect class="f" x="403.1" y="2791.8" width="117.2" height="24"/><text class="t" x="409.1" y="2807.6">棉花：360°x20%=72°</text></g>
<g id="n-d2"><rect class="f" x="382.2" y="2838.5" width="138.1" height="24"/><text class="t" x="388.2" y="2854.3">油料作物：360°x10%=36°</text></g>
<g id="n-d3"><rect class="f" x="315" y="2885.1" width="205.3" height="24"/><text class="t" x="321" y="2900.9">和桥村2000年各种农作物种植面积统计图</text></g>
<g id="n-d4"><rect class="f" x="447.1" y="2932.2" width="73.2" height="24"/><text class="t" x="453.1" y="2948">2001年1月制</text></g>
<g id="n-b53"><rect class="n" x="774" y="3171.3" width="74.6" height="24"/><text class="t" x="780" y="3187.1">三、课堂作业</text></g>
<g id="n-b531"><rect class="f" x="722.5" y="2978.9" width="31.3" height="24"/><text class="t" x="728.5" y="2994.7">设计</text></g>
<g id="n-b532"><rect class="f" x="531.4" y="3099.8" width="222.4" height="51"/><text class="t" y="3115.6"><tspan x="537.4">1.李明问班上的每个同学：“你最喜欢哪一项</tspan><tspan x="537.4" dy="13.5">球类活动?”根据同学们的回答，他制成了右面</tspan><tspan x="537.4" dy="13.5">的扇形统计图。请你看图回答下面的问题</tspan></text></g>
<g id="n-e1"><rect class="f" x="398.6" y="3025.5" width="112.7" height="24"/><text class="t" x="404.6" y="3041.3">(1)哪项球类活动欢迎?</text></g>
<g id="n-e2"><rect class="f" x="313.6" y="3072.6" width="197.7" height="24"/><text class="t" x="319.6" y="3088.4">(2)哪两项球类活动受欢迎的程度差不多?</text></g>
<g id="n-e3"><rect class="f" x="289.7" y="3119.3" width="221.6" height="37.5"/><text class="t" y="3135.1"><tspan x="295.7">(3)最爱好哪项球类活动的同学大约占总人数</tspan><tspan x="295.7" dy="13.5">的</tspan></text></g>
<g id="n-e4"><rect class="f" x="289.7" y="3186.5" width="221.6" height="51"/><text class="t" y="3202.3"><tspan x="295.7">(4)图中的“其他”，是把最爱好排球、网球、</tspan><tspan x="295.7" dy="13.5">手球等球类活动的人数合并而成的，你认为这</tspan><tspan x="295.7" dy="13.5">样做合理吗?</tspan></text></g>
<g id="n-e41"><rect class="f" x="47.9" y="3180" width="222.4" height="64.5"/><text class="t" y="3195.8"><tspan x="53.9">五年级一班上学期期末的音乐成绩，得优的有</tspan><tspan x="53.9" dy="13.5">12人，得良的有16人，及格的有10人，不及</tspan><tspan x="53.9" dy="13.5">格的有2人。各占全班人数的百分之几?制成</tspan><tspan x="53.9" dy="13.5">扇形统计图。</tspan></text></g>
<g id="n-b533"><rect class="f" x="531.4" y="3267.3" width="222.4" height="64.5"/><text class="t" y="3283.1"><tspan x="537.4">3.右图是一个养禽专业户去年养的鸡、鸭、鹅</tspan><tspan x="537.4" dy="13.5">的扇形统计图。如果这个养禽专业户共养鸡、</tspan><tspan x="537.4" dy="13.5">鸭、鹅共2500只，算出三种家禽各养多少只</tspan><tspan x="537.4" dy="13.5">。</tspan></text></g>
<g id="n-b534"><rect class="f" x="531.4" y="3355" width="222.4" height="37.5"/><text class="t" y="3370.8"><tspan x="537.4">4.一种牛肉的成份如下表。根据表中的数据，</tspan><tspan x="537.4" dy="13.5">制成扇形统计图。</tspan></text></g>
<g id="n-b54"><rect class="n" x="774" y="3498.5" width="74.6" height="24"/><text class="t" x="780" y="3514.3">四、课堂作业</text></g>
<g id="n-b541"><rect class="f" x="722.5" y="3416.6" width="31.3" height="24"/><text class="t" x="728.5" y="3432.4">设计</text></g>
<g id="n-b542"><rect class="f" x="544.1" y="3463.2" width="209.7" height="24"/><text class="t" x="550.1" y="3479">1.(1)乒乓球;(2)足球篮球;(3)羽毛球;(4)合理;</text></g>
<g id="n-b543"><rect class="f" x="724" y="3510.4" width="29.8" height="24"/><text class="t" x="730" y="3526.2">2.略</text></g>
<g id="n-b544"><rect class="n" x="614.3" y="3580.3" width="139.5" height="24"/><text class="t" x="620.3" y="3596.1">3.鹅：2500x 18%=450(只)</text></g>
<g id="n-f1"><rect class="f" x="462" y="3556.5" width="132.9" height="24"/><text class="t" x="468" y="3572.3">鸭：2500x 30%=750(只);</text></g>
<g id="n-f2"><rect class="f" x="458.3" y="3603.6" width="136.6" height="24"/><text class="t" x="464.3" y="3619.4">鸡：2500x52%二1300(只)</text></g>

<g id="n-g0"><rect class="bl" x="951.6" y="4138.7" width="223.8" height="49.6"/><text class="tb" y="4158.9"><tspan x="957.6">北师大版六年级下册数学第二单元</tspan><tspan x="957.6" dy="18.6">教案2021文案5</tspan></text></g>
<g id="n-g1"><rect class="n" x="867.2" y="3650.8" width="64.2" height="24"/><text class="t" x="873.2" y="3666.6">教学内容：</text></g>
<g id="n-g1a"><rect class="f" x="642.6" y="3650.8" width="206" height="24"/><text class="t" x="648.6" y="3666.6">冀教版《数学》六年级上册第84、85页。</text></g>
<g id="n-g2"><rect class="n" x="867.2" y="3765.2" width="64.2" height="24"/><text class="t" x="873.2" y="3781">教学目标：</text></g>
<g id="n-g2a"><rect class="f" x="625.5" y="3697.4" width="223.1" height="37.5"/><text class="t" y="3713.2"><tspan x="631.5">1.经历读统计图、交流信息、讨论图的特征等</tspan><tspan x="631.5" dy="13.5">认识扇形统计图的过程。</tspan></text></g>
<g id="n-g2b"><rect class="f" x="625.5" y="3758.1" width="223.1" height="37.5"/><text class="t" y="3773.9"><tspan x="631.5">2.了解扇形统计图的特征，能解释扇形统计图</tspan><tspan x="631.5" dy="13.5">中的数据，能根据统计图回答有关问题。</tspan></text></g>
<g id="n-g2c"><rect class="f" x="625.5" y="3818.3" width="223.1" height="37.5"/><text class="t" y="3834.1"><tspan x="631.5">3.体会扇形统计图在描述和交流数据中的作用</tspan><tspan x="631.5" dy="13.5">，激发学习新知识的兴趣。</tspan></text></g>
<g id="n-g3"><rect class="n" x="867.2" y="4652.4" width="64.2" height="24"/><text class="t" x="873.2" y="4668.2">教学过程：</text></g>
<g id="n-g31"><rect class="n" x="774" y="4307.6" width="74.6" height="24"/><text class="t" x="780" y="4323.4">一、问题情境</text></g>
<g id="n-g311"><rect class="f" x="531.4" y="3879" width="222.4" height="78"/><text class="t" y="3894.8"><tspan x="537.4">天我们来学习一种新的统计图《扇形统计图》</tspan><tspan x="537.4" dy="13.5">，说到统计图我们还学过哪些统计图，它们都</tspan><tspan x="537.4" dy="13.5">有哪些特点?(学生自由说)那么我们今天要学</tspan><tspan x="537.4" dy="13.5">习的扇形统计图又有什么特点呢?和他们有什</tspan><tspan x="537.4" dy="13.5">么不同呢/ 二、认识扇形图</tspan></text></g>
<g id="n-g312"><rect class="f" x="531.4" y="3987.4" width="222.4" height="37.5"/><text class="t" y="4003.2"><tspan x="537.4">1.让学生看课件中的扇形统计图。(或课本84</tspan><tspan x="537.4" dy="13.5">页)</tspan></text></g>
<g id="n-g3121"><rect class="f" x="289.7" y="3980.4" width="221.6" height="51"/><text class="t" y="3996.2"><tspan x="295.7">师：，书上有其他学校六(1)班40名同学四个</tspan><tspan x="295.7" dy="13.5">方面调查结果的扇形统计图，自己读一读。自</tspan><tspan x="295.7" dy="13.5">由说一说你得到了哪些数学信息</tspan></text></g>
<g id="n-g313"><rect class="f" x="650.1" y="4054.1" width="103.7" height="24"/><text class="t" x="656.1" y="4069.9">2.交流得到的信息。</text></g>
<g id="n-g314"><rect class="f" x="531.4" y="4127.9" width="222.4" height="64.5"/><text class="t" y="4143.7"><tspan x="537.4">3.仔细观察统计图，你能用已知的数学信息，</tspan><tspan x="537.4" dy="13.5">提出哪些有用的数学问题呢?(先独立思考，然</tspan><tspan x="537.4" dy="13.5">后小组交流)教师巡视，派代表分别展示出小</tspan><tspan x="537.4" dy="13.5">组交流的结果。</tspan></text></g>
<g id="n-g3141"><rect class="f" x="289.7" y="4101.3" width="221.6" height="51"/><text class="t" y="4117.1"><tspan x="295.7">小组展示提出的问题，让对抗组来解答。通过</tspan><tspan x="295.7" dy="13.5">补充质疑同学们基本能把有价值的数学问题挖</tspan><tspan x="295.7" dy="13.5">出来。</tspan></text></g>
<g id="n-g3142"><rect class="f" x="289.7" y="4175" width="221.6" height="37.5"/><text class="t" y="4190.8"><tspan x="295.7">注：学生提出的问题基本都是针对每一个统计</tspan><tspan x="295.7" dy="13.5">图中的问题。</tspan></text></g>
<g id="n-g315"><rect class="f" x="531.4" y="4320" width="222.4" height="51"/><text class="t" y="4335.8"><tspan x="537.4">4.同学们真是善于观察，善于思考，提出了这</tspan><tspan x="537.4" dy="13.5">么多有价值的数学问题，那么同学们再观察一</tspan><tspan x="537.4" dy="13.5">下这四个统计图有什么共同的特点呢?</tspan></text></g>
<g id="n-h1"><rect class="f" x="289.7" y="4234.9" width="221.6" height="37.5"/><text class="t" y="4250.7"><tspan x="295.7">生1：它们都是一个圆，这个圆表示一个整体</tspan><tspan x="295.7" dy="13.5">，也就是六一班的全体学生</tspan></text></g>
<g id="n-h2"><rect class="f" x="289.7" y="4296.2" width="221.6" height="37.5"/><text class="t" y="4312"><tspan x="295.7">生2：每个圆都分成了大小不同的扇形，这些</tspan><tspan x="295.7" dy="13.5">扇形表示的是部分。</tspan></text></g>
<g id="n-h3"><rect class="f" x="289.7" y="4356.4" width="221.6" height="37.5"/><text class="t" y="4372.2"><tspan x="295.7">生3：每个扇形占整个圆的多少都是用百分比</tspan><tspan x="295.7" dy="13.5">表示出来的。</tspan></text></g>
<g id="n-h4"><rect class="f" x="289.7" y="4417.1" width="221.6" height="37.5"/><text class="t" y="4432.9"><tspan x="295.7">生4：圆中每个扇形的百分比相加的和都是10</tspan><tspan x="295.7" dy="13.5">0%</tspan></text></g>
<g id="n-g316"><rect class="f" x="531.4" y="4483.8" width="222.4" height="51"/><text class="t" y="4499.6"><tspan x="537.4">5.同学们说的真好，把最关键的问题都给说出</tspan><tspan x="537.4" dy="13.5">来了。我们说了这么多那同学们现在知道什么</tspan><tspan x="537.4" dy="13.5">是扇形统计图了吗?</tspan></text></g>
<g id="n-g3161"><rect class="f" x="289.7" y="4477.8" width="221.6" height="64.5"/><text class="t" y="4493.6"><tspan x="295.7">试着总结：(可以小组交流一下再说)用圆来表</tspan><tspan x="295.7" dy="13.5">示一个整体，用扇形表示其中的一部分，用百</tspan><tspan x="295.7" dy="13.5">分比来表示部分占整体的多少的统计图叫做扇</tspan><tspan x="295.7" dy="13.5">形统计图。(板书)</tspan></text></g>
<g id="n-g317"><rect class="n" x="613.5" y="4579.2" width="140.3" height="24"/><text class="t" x="619.5" y="4595">6.扇形统计图有什么特点呢?</text></g>
<g id="n-g3171"><rect class="f" x="371.8" y="4565.6" width="221.6" height="51"/><text class="t" y="4581.4"><tspan x="377.8">生：扇形统计图可以很清楚地表示部分和整体</tspan><tspan x="377.8" dy="13.5">之间的关系。师补充：但是呢它也有不足，它</tspan><tspan x="377.8" dy="13.5">不能表示每一部分数量的多少!</tspan></text></g>
<g id="n-g318"><rect class="n" x="575.5" y="4707.1" width="178.3" height="24"/><text class="t" x="581.5" y="4722.9">7.设情境：让学生选择合适的统计图</text></g>
<g id="n-i1"><rect class="f" x="333.7" y="4639.3" width="222.4" height="37.5"/><text class="t" y="4655.1"><tspan x="339.7">(1)想知道奥城小学每个年级的学生人数应该</tspan><tspan x="339.7" dy="13.5">用()统计图。</tspan></text></g>
<g id="n-i2"><rect class="f" x="333.7" y="4700" width="222.4" height="37.5"/><text class="t" y="4715.8"><tspan x="339.7">(2)想知道奥城小学每个年级的学生人数的增</tspan><tspan x="339.7" dy="13.5">减情况用()统计图</tspan></text></g>
<g id="n-i3"><rect class="f" x="333.7" y="4760.8" width="222.4" height="37.5"/><text class="t" y="4776.6"><tspan x="339.7">(3)想知道每个年级的人数占全校的多少应该</tspan><tspan x="339.7" dy="13.5">用()</tspan></text></g>
<g id="n-i31"><rect class="f" x="91.9" y="4760.8" width="222.4" height="37.5"/><text class="t" y="4776.6"><tspan x="97.9">总结：所以我们要根据不同的需要采用不同的</tspan><tspan x="97.9" dy="13.5">统计图</tspan></text></g>
<g id="n-g32"><rect class="n" x="774" y="4858.4" width="74.6" height="24"/><text class="t" x="780" y="4874.2">二、堂清练习</text></g>
<g id="n-j1"><rect class="f" x="531.4" y="4820.9" width="222.4" height="37.5"/><text class="t" y="4836.7"><tspan x="537.4">用多媒体展示三个层次的问题，让学生，独立</tspan><tspan x="537.4" dy="13.5">思考汇报，然后全班交流</tspan></text></g>
<g id="n-j2"><rect class="f" x="531.4" y="4881.7" width="222.4" height="37.5"/><text class="t" y="4897.5"><tspan x="537.4">学生可能会说出很多不同的问题，在这里注重</tspan><tspan x="537.4" dy="13.5">学法的指导。</tspan></text></g>
<g id="n-g33"><rect class="n" x="711.3" y="4996.6" width="137.3" height="24"/><text class="t" x="717.3" y="5012.4">三、总结概括，拓展应用。</text></g>
<g id="n-k1"><rect class="f" x="468" y="4942.4" width="222.4" height="37.5"/><text class="t" y="4958.2"><tspan x="474">同学们，这节课我们主要学习了什么?你有什</tspan><tspan x="474" dy="13.5">么收获?</tspan></text></g>
<g id="n-k2"><rect class="f" x="468" y="5002.6" width="222.4" height="105"/><text class="t" y="5018.4"><tspan x="474">统计在我们生活中的应用非常广泛，例如我们</tspan><tspan x="474" dy="13.5">可以调查一下我们班60个人的完成作业情况</tspan><tspan x="474" dy="13.5">制成统计图，还可以调查一下我们班的同学在</tspan><tspan x="474" dy="13.5">家是否主动做家务制成统计图等等，只要我们</tspan><tspan x="474" dy="13.5">细心观察，就会发现生活中处处都有统计，希</tspan><tspan x="474" dy="13.5">望同学们课后能运用今天所学的知识去解决生</tspan><tspan x="474" dy="13.5">活中的问题。</tspan></text></g>

<g id="n-r0"><rect class="bl" x="1445.7" y="118.4" width="225.2" height="159.1"/><text class="tb" y="139"><tspan x="1451.7">教学重点是教材中举足轻重、关键</tspan><tspan x="1451.7" dy="18.3">性的、最基本的、最重要的中心内</tspan><tspan x="1451.7" dy="18.3">容，是课堂结构的主要线索，掌握</tspan><tspan x="1451.7" dy="18.3">了这部分内容，对于巩固旧知识和</tspan><tspan x="1451.7" dy="18.3">学习新知识都起着决定性作用，今</tspan><tspan x="1451.7" dy="18.3">天树图网在这里整理了一些北师大</tspan><tspan x="1451.7" dy="18.3">版六年级下册数学第二单元教案20</tspan><tspan x="1451.7" dy="18.3">21文案，我们一起来看看吧!</tspan></text></g>
<g id="n-r2"><rect class="bl" x="1445.7" y="889.3" width="225.2" height="49.6"/><text class="tb" y="909.5"><tspan x="1451.7">北师大版六年级下册数学第二单元</tspan><tspan x="1451.7" dy="18.6">教案2021文案2</tspan></text></g>
<g id="n-r21"><rect class="n" x="1690.2" y="307" width="63.8" height="24"/><text class="t" x="1696.2" y="322.8">教学内容：</text></g>
<g id="n-r21a"><rect class="f" x="1772.6" y="300.5" width="222.9" height="37.5"/><text class="t" y="316.3"><tspan x="1778.6">教科书第67页例2，第68页课堂活动第2题及</tspan><tspan x="1778.6" dy="13.5">练习十五3~5题。</tspan></text></g>
<g id="n-r22"><rect class="n" x="1690.2" y="407.7" width="63.8" height="24"/><text class="t" x="1696.2" y="423.5">教学目标：</text></g>
<g id="n-r22a"><rect class="f" x="1772.6" y="360.5" width="222.9" height="51"/><text class="t" y="376.3"><tspan x="1778.6">1.联系生活情境进一步了解扇形统计图的特点</tspan><tspan x="1778.6" dy="13.5">，会根据扇形统计图前后的变化获取相关的数</tspan><tspan x="1778.6" dy="13.5">据和有用的信息。</tspan></text></g>
<g id="n-r22b"><rect class="f" x="1772.6" y="435.5" width="222.9" height="37.5"/><text class="t" y="451.3"><tspan x="1778.6">2.体会数据对决策的作用，体会统计在现实生</tspan><tspan x="1778.6" dy="13.5">活中的应用价值。</tspan></text></g>
<g id="n-r23"><rect class="n" x="1690.2" y="509.5" width="63.8" height="24"/><text class="t" x="1696.2" y="525.3">教学重点：</text></g>
<g id="n-r23a"><rect class="f" x="1772.6" y="495.5" width="222.9" height="51"/><text class="t" y="511.3"><tspan x="1778.6">进一步了解扇形统计图的特点，会根据扇形统</tspan><tspan x="1778.6" dy="13.5">计图前后的变化获取相关的数据和有用的信息</tspan><tspan x="1778.6" dy="13.5">。</tspan></text></g>
<g id="n-r24"><rect class="n" x="1690.2" y="570" width="63.8" height="24"/><text class="t" x="1696.2" y="585.8">教学难点：</text></g>
<g id="n-r24a"><rect class="f" x="1772.6" y="570" width="222.9" height="24"/><text class="t" x="1778.6" y="585.8">会根据扇形统计图前后的变化进行对比分析。</text></g>
<g id="n-r25"><rect class="n" x="1690.2" y="616.6" width="63.8" height="24"/><text class="t" x="1696.2" y="632.4">教学准备：</text></g>
<g id="n-r25a"><rect class="f" x="1772.6" y="616.6" width="106.3" height="24"/><text class="t" x="1778.6" y="632.4">教具：多媒体课件。</text></g>
<g id="n-r26"><rect class="n" x="1690.2" y="1497.5" width="63.8" height="24"/><text class="t" x="1696.2" y="1513.3">教学过程：</text></g>
<g id="n-r261"><rect class="n" x="1772.6" y="716.8" width="75.1" height="24"/><text class="t" x="1778.6" y="732.6">一、复习引入</text></g>
<g id="n-r2611"><rect class="f" x="1866.3" y="663.2" width="164.2" height="24"/><text class="t" x="1872.3" y="679">教师：扇形统计图有什么特点呢?</text></g>
<g id="n-r2612"><rect class="f" x="1866.3" y="710.3" width="223.6" height="37.5"/><text class="t" y="726.1"><tspan x="1872.3">教师：今天我们将在以前学习知识的基础上来</tspan><tspan x="1872.3" dy="13.5">进一步研究扇形统计图。</tspan></text></g>
<g id="n-r2613"><rect class="f" x="1866.3" y="770.9" width="118.1" height="24"/><text class="t" x="1872.3" y="786.7">板书课题：扇形统计图</text></g>
<g id="n-r262"><rect class="n" x="1772.6" y="1607.3" width="128.6" height="24"/><text class="t" x="1778.6" y="1623.1">二、自主探索，学习新知</text></g>
<g id="n-r2621"><rect class="n" x="1919.8" y="1395.7" width="57.9" height="24"/><text class="t" x="1925.8" y="1411.5">1.教学例2</text></g>
<g id="n-r26211"><rect class="n" x="1997" y="1062.5" width="129.3" height="24"/><text class="t" x="2003" y="1078.3">(1)先后出示两个统计图。</text></g>
<g id="n-s1"><rect class="f" x="2146.4" y="817.5" width="137.4" height="24"/><text class="t" x="2152.4" y="833.3">先出示第一幅扇形统计图。</text></g>
<g id="n-s2"><rect class="f" x="2146.4" y="864.1" width="196.1" height="24"/><text class="t" x="2152.4" y="879.9">教师：从这幅图中我们能获得哪些信息?</text></g>
<g id="n-s3"><rect class="f" x="2146.4" y="910.7" width="202.1" height="24"/><text class="t" x="2152.4" y="926.5">根据学生的回答在课件中点出相关部分。</text></g>
<g id="n-s4"><rect class="f" x="2146.4" y="958.6" width="163.4" height="24"/><text class="t" x="2152.4" y="974.4">教师：这些都是什么时候的数据?</text></g>
<g id="n-s5"><rect class="f" x="2146.4" y="1005.2" width="137.4" height="24"/><text class="t" x="2152.4" y="1021">再出示第二幅扇形统计图。</text></g>
<g id="n-s6"><rect class="f" x="2146.4" y="1051.8" width="222.9" height="37.5"/><text class="t" y="1067.6"><tspan x="2152.4">教师：从这幅图中我们又能获得哪些信息?这</tspan><tspan x="2152.4" dy="13.5">些又是什么时候的数据?</tspan></text></g>
<g id="n-s7"><rect class="f" x="2146.4" y="1111.8" width="222.9" height="51"/><text class="t" y="1127.6"><tspan x="2152.4">教师：耕地、森林、果园的面积各是多少平方</tspan><tspan x="2152.4" dy="13.5">千米呢?没有改造的荒山还有多少平方千米?请</tspan><tspan x="2152.4" dy="13.5">你们算一算。</tspan></text></g>
<g id="n-s8"><rect class="f" x="2146.4" y="1186.8" width="127" height="24"/><text class="t" x="2152.4" y="1202.6">将两幅图放在一块观察。</text></g>
<g id="n-s9"><rect class="f" x="2146.4" y="1233.4" width="222.9" height="37.5"/><text class="t" y="1249.2"><tspan x="2152.4">教师：看了这两幅扇形统计图，你想说些什么</tspan><tspan x="2152.4" dy="13.5">?看看谁的发现最多，最有价值。</tspan></text></g>
<g id="n-s10"><rect class="f" x="2146.4" y="1292.8" width="222.9" height="51"/><text class="t" y="1308.6"><tspan x="2152.4">学生先独立思考，然后小组内部交流自己的发</tspan><tspan x="2152.4" dy="13.5">现(“退耕还林”前与2006年底相比土地的变化</tspan><tspan x="2152.4" dy="13.5">情况)。</tspan></text></g>
<g id="n-r26212"><rect class="n" x="1997" y="1502.8" width="171.7" height="24"/><text class="t" x="2003" y="1518.6">(2)进一步了解扇形统计图的作用。</text></g>
<g id="n-t1"><rect class="f" x="2188.7" y="1367.9" width="222.2" height="51"/><text class="t" y="1383.7"><tspan x="2194.7">教师：刚才同学们在小组内部互相交流了自己</tspan><tspan x="2194.7" dy="13.5">的发现，现在哪位同学能代表你们小组进行发</tspan><tspan x="2194.7" dy="13.5">言?</tspan></text></g>
<g id="n-t2"><rect class="f" x="2188.7" y="1442.3" width="222.2" height="37.5"/><text class="t" y="1458.1"><tspan x="2194.7">请一两位同学相互补充，找到统计图中发生变</tspan><tspan x="2194.7" dy="13.5">化的项目。</tspan></text></g>
<g id="n-t3"><rect class="f" x="2188.7" y="1502.3" width="222.2" height="78"/><text class="t" y="1518.1"><tspan x="2194.7">小结：对比两幅扇形统计图，同学们强调最多</tspan><tspan x="2194.7" dy="13.5">的是有许多项目发生了变化。有没有没发生变</tspan><tspan x="2194.7" dy="13.5">化的量呢?(课件重点强调：土地总面积没发生</tspan><tspan x="2194.7" dy="13.5">改变)也就是两个圆所代表的都是鹿山村的土</tspan><tspan x="2194.7" dy="13.5">地总面积。</tspan></text></g>
<g id="n-t4"><rect class="f" x="2188.7" y="1604.1" width="222.2" height="64.5"/><text class="t" y="1619.9"><tspan x="2194.7">教师引导：结合我们的发现思考：森林面积的</tspan><tspan x="2194.7" dy="13.5">增加与荒山面积的减少会给这个村庄带来怎样</tspan><tspan x="2194.7" dy="13.5">的变化?如果你是村委会的领导面对2006年底</tspan><tspan x="2194.7" dy="13.5">的统计图你又会作哪些思考?</tspan></text></g>
<g id="n-r26213"><rect class="n" x="1997" y="1728.9" width="150.9" height="24"/><text class="t" x="2003" y="1744.7">(3)根据扇形统计图解决问题。</text></g>
<g id="n-u1"><rect class="f" x="2168" y="1691.4" width="222.7" height="37.5"/><text class="t" y="1707.2"><tspan x="2174">教师：观察扇形统计图，你还能提出并解决哪</tspan><tspan x="2174" dy="13.5">些数学问题?</tspan></text></g>
<g id="n-u2"><rect class="f" x="2168" y="1752.7" width="222.7" height="37.5"/><text class="t" y="1768.5"><tspan x="2174">学生先独立思考并解答，教师巡视找出典型的</tspan><tspan x="2174" dy="13.5">问题并进行解析。</tspan></text></g>
<g id="n-r2622"><rect class="n" x="1919.5" y="1819.6" width="62.7" height="24"/><text class="t" x="1925.5" y="1835.4">2.课堂总结</text></g>
<g id="n-r26221"><rect class="f" x="1998.3" y="1813.2" width="225.9" height="37.5"/><text class="t" y="1829"><tspan x="2004.3">教师：今天我们学习了什么?(扇形统计图)你</tspan><tspan x="2004.3" dy="13.5">又有什么收获?</tspan></text></g>
<g id="n-r263"><rect class="n" x="1773.2" y="1985.2" width="74" height="24"/><text class="t" x="1779.2" y="2001">三、课堂活动</text></g>
<g id="n-v1"><rect class="f" x="1867.3" y="1873.2" width="221.9" height="64.5"/><text class="t" y="1889"><tspan x="1873.3">教师：刚才我们分析的两个扇形统计图的圆都</tspan><tspan x="1873.3" dy="13.5">代表相同的含义——土地总面积，(课件点出“</tspan><tspan x="1873.3" dy="13.5">课堂活动”第2题——改变题目增加两个参数</tspan><tspan x="1873.3" dy="13.5">——美国、俄罗斯的面积和人口)现在呢?</tspan></text></g>
<g id="n-v2"><rect class="f" x="1867.3" y="1960.5" width="216.7" height="24"/><text class="t" x="1873.3" y="1976.3">教师：仔细观察这些统计图，你有哪些发现?</text></g>
<g id="n-v3"><rect class="f" x="1867.3" y="2007.7" width="221.9" height="37.5"/><text class="t" y="2023.5"><tspan x="1873.3">教师引导：重点分析中国人口多耕地少的基本</tspan><tspan x="1873.3" dy="13.5">国情。</tspan></text></g>
<g id="n-v4"><rect class="f" x="1867.3" y="2068.7" width="221.9" height="37.5"/><text class="t" y="2084.5"><tspan x="1873.3">教师：面对我国人口多耕地少的局面，你会做</tspan><tspan x="1873.3" dy="13.5">哪些思考?</tspan></text></g>
<g id="n-r264"><rect class="n" x="1773.2" y="2278.7" width="127.1" height="24"/><text class="t" x="1779.2" y="2294.5">四、练习应用，促进发展</text></g>
<g id="n-r2641"><rect class="n" x="1921.2" y="2212.3" width="108.8" height="24"/><text class="t" x="1927.2" y="2228.1">1.完成练习十五第3题</text></g>
<g id="n-w1"><rect class="f" x="2050" y="2128.7" width="222" height="24"/><text class="t" x="2056" y="2144.5">出示题中的两幅扇形统计图，引导学生对比。</text></g>
<g id="n-w2"><rect class="f" x="2050" y="2175.9" width="197.6" height="24"/><text class="t" x="2056" y="2191.7">(1)从两幅统计图中，你获得了哪些信息?</text></g>
<g id="n-w3"><rect class="f" x="2050" y="2222.5" width="222" height="51"/><text class="t" y="2238.3"><tspan x="2056">(2)算一算：从1996年到2006年，工业用地、</tspan><tspan x="2056" dy="13.5">居住用地、绿化用地分别增加或减少了多少平</tspan><tspan x="2056" dy="13.5">方千米?</tspan></text></g>
<g id="n-w31"><rect class="f" x="2293" y="2229.5" width="221" height="37.5"/><text class="t" y="2245.3"><tspan x="2299">学生独立计算，教师巡视，抽几个学生上台板</tspan><tspan x="2299" dy="13.5">演，集体评议。</tspan></text></g>
<g id="n-w4"><rect class="f" x="2050" y="2297" width="187.2" height="24"/><text class="t" x="2056" y="2312.8">(3)议一议：你对这种变化有什么看法?</text></g>
<g id="n-r2642"><rect class="f" x="1921.2" y="2343.6" width="125.4" height="24"/><text class="t" x="1927.2" y="2359.4">2.完成练习十五第4，5题</text></g>

<g id="n-x0"><rect class="bl" x="1445.7" y="3011.2" width="225.2" height="49.6"/><text class="tb" y="3031.4"><tspan x="1451.7">北师大版六年级下册数学第二单元</tspan><tspan x="1451.7" dy="18.6">教案2021文案4</tspan></text></g>
<g id="n-x1"><rect class="n" x="1690.2" y="2438.4" width="63.8" height="24"/><text class="t" x="1696.2" y="2454.2">教学目标：</text></g>
<g id="n-x1a"><rect class="f" x="1772.6" y="2391.2" width="222.9" height="51"/><text class="t" y="2407"><tspan x="1778.6">1.使学生初步掌握“求一个数比另一个数多(或</tspan><tspan x="1778.6" dy="13.5">少)百分之几”的应用题的分析方法，并能正确</tspan><tspan x="1778.6" dy="13.5">解答此类应用题。</tspan></text></g>
<g id="n-x1b"><rect class="f" x="1772.6" y="2465.2" width="222.9" height="37.5"/><text class="t" y="2481"><tspan x="1778.6">2.进一步提高分析、比较、解答应用题的能力</tspan><tspan x="1778.6" dy="13.5">，培养认真审题的好习惯。</tspan></text></g>
<g id="n-x2"><rect class="n" x="1690.2" y="2533.2" width="63.8" height="24"/><text class="t" x="1696.2" y="2549">教学重点：</text></g>
<g id="n-x2a"><rect class="f" x="1772.6" y="2524.1" width="222.9" height="37.5"/><text class="t" y="2539.9"><tspan x="1778.6">掌握“求一个数比另一个数多(或少)百分之几”</tspan><tspan x="1778.6" dy="13.5">的应用题的分析方法，并能够正确列式解答.</tspan></text></g>
<g id="n-x3"><rect class="n" x="1690.2" y="2593.4" width="63.8" height="24"/><text class="t" x="1696.2" y="2609.2">教学难点：</text></g>
<g id="n-x3a"><rect class="f" x="1772.6" y="2585.4" width="222.9" height="37.5"/><text class="t" y="2601.2"><tspan x="1778.6">掌握“求一个数比另一个数多(或少)百分之几”</tspan><tspan x="1778.6" dy="13.5">的应用题的分析方法，并能够正确列式解答.</tspan></text></g>
<g id="n-x4"><rect class="n" x="1690.2" y="3612.5" width="63.8" height="24"/><text class="t" x="1696.2" y="3628.3">教学过程：</text></g>
<g id="n-x41"><rect class="n" x="1772.6" y="2824.8" width="75.1" height="24"/><text class="t" x="1778.6" y="2840.6">一、复习准备</text></g>
<g id="n-x411"><rect class="f" x="1866.3" y="2646.4" width="223.6" height="37.5"/><text class="t" y="2662.2"><tspan x="1872.3">(一)求一个数是另一个数的百分之几用什么方</tspan><tspan x="1872.3" dy="13.5">法?解答这类应用题的关键是什么?</tspan></text></g>
<g id="n-x412"><rect class="n" x="1866.3" y="2763.7" width="127" height="24"/><text class="t" x="1872.3" y="2779.5">(二)口答，只列式不计算.</text></g>
<g id="n-x4121"><rect class="f" x="2012.6" y="2707" width="182.1" height="24"/><text class="t" x="2018.6" y="2722.8">1.5是4的百分之几?4是5的百分之几?</text></g>
<g id="n-x4122"><rect class="f" x="2012.6" y="2753.6" width="222.9" height="37.5"/><text class="t" y="2769.4"><tspan x="2018.6">2.甲数是50，乙数是40，甲数比乙数多多少?</tspan><tspan x="2018.6" dy="13.5">甲数比乙数多的是乙数的百分之几?</tspan></text></g>
<g id="n-x4123"><rect class="f" x="2012.6" y="2814.1" width="222.9" height="37.5"/><text class="t" y="2829.9"><tspan x="2018.6">3.甲数是48，乙数是64，甲数比乙数少多少?</tspan><tspan x="2018.6" dy="13.5">甲数比乙数少的是甲数的百分之几?</tspan></text></g>
<g id="n-x413"><rect class="n" x="1866.3" y="2907.9" width="60.1" height="24"/><text class="t" x="1872.3" y="2923.7">(三)应用题</text></g>
<g id="n-x4131"><rect class="f" x="1946.5" y="2874.6" width="222.2" height="37.5"/><text class="t" y="2890.4"><tspan x="1952.5">盒子中有45立方厘米的水，结成冰后，冰的</tspan><tspan x="1952.5" dy="13.5">体积约为50立方厘米。</tspan></text></g>
<g id="n-x4132"><rect class="f" x="1946.5" y="2935.2" width="185" height="24"/><text class="t" x="1952.5" y="2951">冰的体积是原来水的体积的百分之几?</text></g>
<g id="n-x414"><rect class="n" x="1866.3" y="2995.7" width="71.3" height="24"/><text class="t" x="1872.3" y="3011.5">(四)引入新课</text></g>
<g id="n-x4141"><rect class="f" x="1956.9" y="2981.8" width="222.9" height="51"/><text class="t" y="2997.6"><tspan x="1962.9">如果把、问题改为：冰的体积比原来水的体积</tspan><tspan x="1962.9" dy="13.5">增加了百分之几?该怎样解答呢?今天我们继续</tspan><tspan x="1962.9" dy="13.5">学习百分数应用题</tspan></text></g>
<g id="n-x42"><rect class="n" x="1772.6" y="3365.9" width="75.1" height="24"/><text class="t" x="1778.6" y="3381.7">二、新授教学</text></g>
<g id="n-x421"><rect class="n" x="1866.3" y="3226.6" width="71.3" height="24"/><text class="t" x="1872.3" y="3242.4">(一)教学例题</text></g>
<g id="n-y1"><rect class="f" x="1956.9" y="3055.7" width="222.9" height="37.5"/><text class="t" y="3071.5"><tspan x="1962.9">例.盒子中有45立方厘米的水，结成冰后，冰</tspan><tspan x="1962.9" dy="13.5">的体积约为50立方厘米。</tspan></text></g>
<g id="n-y2"><rect class="f" x="1956.9" y="3116.2" width="206.6" height="24"/><text class="t" x="1962.9" y="3132">冰的体积比原来水的体积增加了百分之几?</text></g>
<g id="n-y3"><rect class="f" x="1956.9" y="3162.9" width="95.9" height="24"/><text class="t" x="1962.9" y="3178.7">1.读题，理解题意.</text></g>
<g id="n-y4"><rect class="f" x="1956.9" y="3210" width="173.1" height="24"/><text class="t" x="1962.9" y="3225.8">2.比较：例题与复习题有什么异同?</text></g>
<g id="n-y5"><rect class="f" x="1956.9" y="3256.6" width="222.9" height="37.5"/><text class="t" y="3272.4"><tspan x="1962.9">3.讨论：“冰的体积比原来水的体积增加了百</tspan><tspan x="1962.9" dy="13.5">分之几?”什么意思?(画图理解)</tspan></text></g>
<g id="n-y51"><rect class="f" x="2199" y="3256.6" width="223" height="37.5"/><text class="t" y="3272.4"><tspan x="2205">教师板书：多出来的部分占原计划的百分之几</tspan><tspan x="2205" dy="13.5">.</tspan></text></g>
<g id="n-y6"><rect class="n" x="1956.9" y="3317.1" width="63.1" height="24"/><text class="t" x="1962.9" y="3332.9">4.列式计算</text></g>
<g id="n-y61"><rect class="f" x="2038.6" y="3317.1" width="193.2" height="24"/><text class="t" x="2044.6" y="3332.9">(50-45)÷45 =5÷45 ≈0.111 =11、1%</text></g>
<g id="n-y7"><rect class="n" x="1956.9" y="3387.8" width="163.5" height="24"/><text class="t" x="1962.9" y="3403.6">5.思考：这道题还有其他解法吗?</text></g>
<g id="n-y71"><rect class="f" x="2139" y="3364.3" width="161.2" height="24"/><text class="t" x="2145" y="3380.1">50÷45-1 ≈111、1-1 =11、1%</text></g>
<g id="n-y72"><rect class="f" x="2139" y="3412.7" width="117.3" height="24"/><text class="t" x="2145" y="3428.5">提问：为什么要减去1?</text></g>
<g id="n-x422"><rect class="n" x="1866.3" y="3505.4" width="51.2" height="24"/><text class="t" x="1872.3" y="3521.2">(二)反馈</text></g>
<g id="n-z1"><rect class="f" x="1936.1" y="3458.2" width="222.9" height="37.5"/><text class="t" y="3474"><tspan x="1942.1">1.把例题中的问题改成“水比冰体积少百分之</tspan><tspan x="1942.1" dy="13.5">几?”该怎样解答?</tspan></text></g>
<g id="n-z11"><rect class="f" x="2178.3" y="3458.2" width="222.9" height="37.5"/><text class="t" y="3474"><tspan x="2184.3">思考：这道题与例题有什么相同的地方?有什</tspan><tspan x="2184.3" dy="13.5">么不同的地方?</tspan></text></g>
<g id="n-z2"><rect class="f" x="1936.1" y="3518.2" width="222.9" height="78"/><text class="t" y="3534"><tspan x="1942.1">2.一个乡去年原计划造林12公顷，实际造林比</tspan><tspan x="1942.1" dy="13.5">原计划多2公顷，实际造林比原计划造林多百</tspan><tspan x="1942.1" dy="13.5">分之几?3.一个乡去年原计划造林12公顷，实</tspan><tspan x="1942.1" dy="13.5">际造林比原计划多2公顷，实际造林比原计划</tspan><tspan x="1942.1" dy="13.5">造林少百分之几?</tspan></text></g>
<g id="n-x43"><rect class="n" x="1772.6" y="4002" width="75.1" height="24"/><text class="t" x="1778.6" y="4017.8">三、巩固练习</text></g>
<g id="n-x431"><rect class="f" x="1866.3" y="3750.7" width="223.6" height="37.5"/><text class="t" y="3766.5"><tspan x="1872.3">(一)分析下面每个题的含义，然后列出文字表</tspan><tspan x="1872.3" dy="13.5">达式.</tspan></text></g>
<g id="n-o1"><rect class="f" x="2109.2" y="3620.5" width="214.8" height="24"/><text class="t" x="2115.2" y="3636.3">1.今年的产量比去年的产量增加了百分之几?</text></g>
<g id="n-o2"><rect class="f" x="2109.2" y="3667.7" width="172.4" height="24"/><text class="t" x="2115.2" y="3683.5">2.实际用电比计划节约了百分之几?</text></g>
<g id="n-o3"><rect class="f" x="2109.2" y="3713.7" width="222.9" height="37.5"/><text class="t" y="3729.5"><tspan x="2115.2">3.十月份的利润比九月份的利润超过了百分之</tspan><tspan x="2115.2" dy="13.5">几?</tspan></text></g>
<g id="n-o4"><rect class="f" x="2109.2" y="3774.3" width="222.9" height="37.5"/><text class="t" y="3790.1"><tspan x="2115.2">4.1999年的电视机价格比1998年降低了百分</tspan><tspan x="2115.2" dy="13.5">之几?</tspan></text></g>
<g id="n-o5"><rect class="f" x="2109.2" y="3834.8" width="222.9" height="37.5"/><text class="t" y="3850.6"><tspan x="2115.2">5.现在生产一个零件的时间比原来缩短了百分</tspan><tspan x="2115.2" dy="13.5">之几?</tspan></text></g>
<g id="n-o6"><rect class="f" x="2109.2" y="3895.3" width="214.8" height="24"/><text class="t" x="2115.2" y="3911.1">6.十一月份比十二月份超额完成了百分之几?</text></g>
<g id="n-x432"><rect class="n" x="1866.3" y="4070" width="95.8" height="24"/><text class="t" x="1872.3" y="4085.8">(二)只列式不计算.</text></g>
<g id="n-p1"><rect class="f" x="1980.7" y="3942.5" width="222.9" height="37.5"/><text class="t" y="3958.3"><tspan x="1986.7">1.某校有男生500人，女生450人，男生比女</tspan><tspan x="1986.7" dy="13.5">生多百分之几?</tspan></text></g>
<g id="n-p2"><rect class="f" x="1980.7" y="4002.5" width="222.9" height="37.5"/><text class="t" y="4018.3"><tspan x="1986.7">2.某校有男生500人，女生450人，女生比男</tspan><tspan x="1986.7" dy="13.5">生少百分之几?</tspan></text></g>
<g id="n-p3"><rect class="f" x="1980.7" y="4063" width="222.9" height="37.5"/><text class="t" y="4078.8"><tspan x="1986.7">3.一种机器零件，成本从2.4元降低到0.8元，</tspan><tspan x="1986.7" dy="13.5">成本降低了百分之几?</tspan></text></g>
<g id="n-p4"><rect class="f" x="1980.7" y="4123" width="222.9" height="37.5"/><text class="t" y="4138.8"><tspan x="1986.7">4.一种机器零件，成本从2.4元降低了0.8元，</tspan><tspan x="1986.7" dy="13.5">成本降低了百分之几?</tspan></text></g>
<g id="n-p5"><rect class="f" x="1980.7" y="4183.5" width="222.9" height="37.5"/><text class="t" y="4199.3"><tspan x="1986.7">5.某工厂计划制造拖拉机550台，比原计划超</tspan><tspan x="1986.7" dy="13.5">额完成了50台，超额了百分之几?</tspan></text></g>
<g id="n-x433"><rect class="n" x="1866.3" y="4244.3" width="51.2" height="24"/><text class="t" x="1872.3" y="4260.1">(三)思考</text></g>
<g id="n-x4331"><rect class="f" x="1936.1" y="4244.3" width="191" height="24"/><text class="t" x="1942.1" y="4260.1">男生比女生多20%，女生就比男生少().</text></g>
<g id="n-x44"><rect class="n" x="1772.6" y="4292" width="75.1" height="24"/><text class="t" x="1778.6" y="4307.8">四、课堂小结</text></g>
<g id="n-x441"><rect class="f" x="1866.3" y="4292" width="164.2" height="24"/><text class="t" x="1872.3" y="4307.8">通过今天的学习，你有哪些收获?</text></g>
<g id="n-x45"><rect class="n" x="1772.6" y="4399.6" width="75.1" height="24"/><text class="t" x="1778.6" y="4415.4">五、课后作业</text></g>
<g id="n-x451"><rect class="f" x="1866.3" y="4338.6" width="223.6" height="64.5"/><text class="t" y="4354.4"><tspan x="1872.3">1.我国第一大岛台湾岛面积约35760平方千米</tspan><tspan x="1872.3" dy="13.5">，第二大岛海南岛面积约是32200平方千米.</tspan><tspan x="1872.3" dy="13.5">台湾岛的面积比海南岛大百分之几?(百分号前</tspan><tspan x="1872.3" dy="13.5">面的数保留一位小数)</tspan></text></g>
<g id="n-x452"><rect class="f" x="1866.3" y="4425.9" width="223.6" height="51"/><text class="t" y="4441.7"><tspan x="1872.3">2.工程队原计划一周修路24千米，实际修了2</tspan><tspan x="1872.3" dy="13.5">8千米.实际修的占原计划的百分之几?实际比</tspan><tspan x="1872.3" dy="13.5">原计划多修百分之几?</tspan></text></g>

<g id="n-q0"><rect class="bl" x="1445.7" y="4722.1" width="225.2" height="49.6"/><text class="tb" y="4742.3"><tspan x="1451.7">北师大版六年级下册数学第二单元</tspan><tspan x="1451.7" dy="18.6">教案文案相关文章：</tspan></text></g>
<g id="n-q1"><rect class="f" x="1690.2" y="4499.8" width="222.1" height="37.5"/><text class="t" y="4515.6"><tspan x="1696.2">★ 北师大版六年级下册数学总复习教案2021</tspan><tspan x="1696.2" dy="13.5">文案</tspan></text></g>
<g id="n-q2"><rect class="f" x="1690.2" y="4560.3" width="212.5" height="24"/><text class="t" x="1696.2" y="4576.1">★ 北师大小学数学一年级下册教案最新文案</text></g>
<g id="n-q3"><rect class="f" x="1690.2" y="4607.5" width="216.2" height="24"/><text class="t" x="1696.2" y="4623.3">★ 2021新北师大版二年级数学下册教案文案</text></g>
<g id="n-q4"><rect class="f" x="1690.2" y="4654.1" width="222.1" height="37.5"/><text class="t" y="4669.9"><tspan x="1696.2">★ 最新北师大版三年级数学下册第二单元教</tspan><tspan x="1696.2" dy="13.5">案范文</tspan></text></g>
<g id="n-q5"><rect class="f" x="1690.2" y="4714.6" width="182" height="24"/><text class="t" x="1696.2" y="4730.4">★ 北师大版数学二年级教案最新文案</text></g>
<g id="n-q6"><rect class="f" x="1690.2" y="4761.2" width="222.1" height="37.5"/><text class="t" y="4777"><tspan x="1696.2">★ 2021新北师大一年级数学下册全册文案教</tspan><tspan x="1696.2" dy="13.5">案</tspan></text></g>
<g id="n-q7"><rect class="f" x="1690.2" y="4821.8" width="216.2" height="24"/><text class="t" x="1696.2" y="4837.6">★ 新北师大版一年级下册数学教案2021文案</text></g>
<g id="n-q8"><rect class="f" x="1690.2" y="4868.9" width="202.1" height="24"/><text class="t" x="1696.2" y="4884.7">★ 最新三年级北师大版下册数学教案文案</text></g>
<g id="n-q9"><rect class="f" x="1690.2" y="4916" width="191.7" height="24"/><text class="t" x="1696.2" y="4931.8">★ 北师版三年级下册数学教案最新文案</text></g>
<g id="n-q10"><rect class="f" x="1690.2" y="4963.2" width="118.1" height="24"/><text class="t" x="1696.2" y="4979">★ 六年级数学下册教案</text></g>
</g>
</svg>
